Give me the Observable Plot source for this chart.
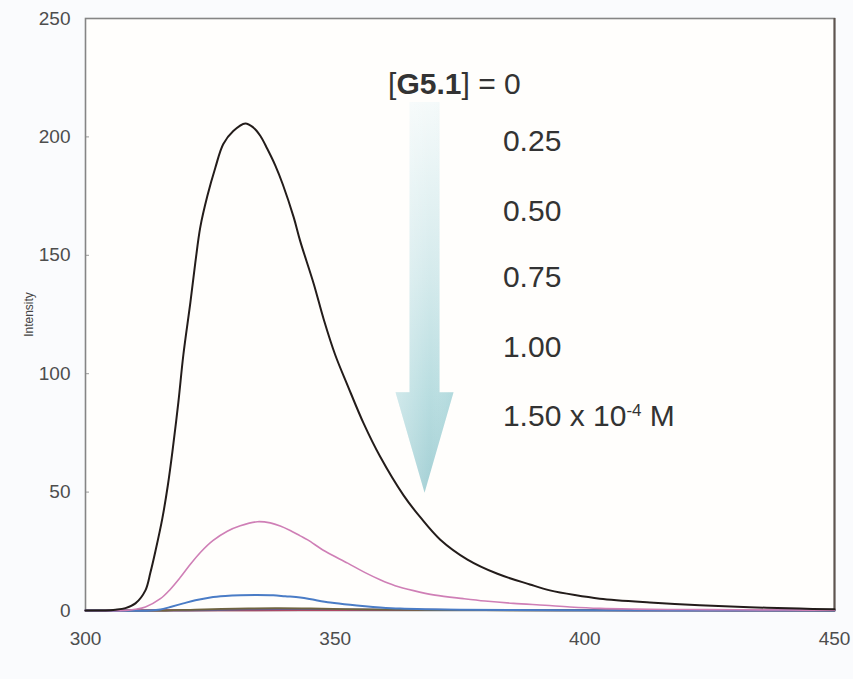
<!DOCTYPE html>
<html><head><meta charset="utf-8">
<script src="https://cdn.jsdelivr.net/npm/d3@7"></script>
<script src="https://cdn.jsdelivr.net/npm/@observablehq/plot@0.6"></script>
<style>
html,body{margin:0;padding:0;background:#fafbfd;}
#chart{width:853px;height:679px;}
</style></head><body><div id="chart"></div>
<script>
// ---- data ----
const concentrations = ["0", "0.25", "0.50", "0.75", "1.00", "1.50"];
const seriesColors = ["#231c1a", "#cf7fb6", "#4a7cc6", "#6f6440", "#6a5b86", "#c9405a"];
const seriesWidths = [2, 1.6, 2, 1.8, 1.8, 2];

const wl0 = [300,304,306,308,310,312,313,314,315.4,316.5,317.4,318.6,319.6,321,322,323,324.4,326,327.6,329.6,332,333.6,335,336.4,338,339.5,341.7,343,345.7,347.7,350,352.5,355.7,359,363.7,367,371,376.5,382.5,389,393,398,403,413,423,433,443,450];
const int0 = [0,0,0.3,1,3,8.5,16,25,39,53,67,88,108,130,147,162,175,187,197,202.5,205.7,204,200.5,195,188,180,166,156,138,123,108,95,79,65,48.6,39.5,30,21.5,15.5,11,8.5,6.5,5,3.4,2.2,1.4,0.8,0.5];

const wl1 = [300,308,310,312,315,317,319,321,323,325.5,328.4,331,334.4,337,339,341,343,344.5,348,352.5,356,359,362,365.7,370,375.7,380,385.7,392,397,403,410,420,430,440,450];
const int1 = [0,0,0.5,1.5,5,9,14,19.5,24.5,29.5,33.5,35.8,37.5,37,35.7,33.8,31.5,29.8,25,20,16,13,10.5,8.4,6.5,5,4,3,2.2,1.5,0.9,0.6,0.4,0.3,0.2,0.1];

const wl2 = [300,313,315,317,319.6,322,325,328,331,334,337.6,340,343,346,349,353,356,359,363,368,375,385,400,420,450];
const int2 = [0,0,0.4,1.5,3,4.3,5.5,6.1,6.4,6.5,6.4,6,5.5,4.4,3.4,2.4,1.8,1.3,0.8,0.5,0.3,0.2,0.1,0.05,0];

const wl3 = [300,316,322,330,338,345,352,360,370,385,400,450];
const int3 = [0,0,0.4,0.8,1.0,0.9,0.6,0.35,0.2,0.1,0.05,0];

const wl4 = [300,320,330,340,350,360,370,380,395,420,450];
const int4 = [0,0,0.3,0.45,0.45,0.4,0.35,0.2,0.1,0.05,0];

const wl5 = [300,330,350,370,390,410,430,450];
const int5 = [0,0.1,0.2,0.25,0.25,0.15,0.05,0];

const xTicks = [300, 350, 400, 450];
const yTicks = [0, 50, 100, 150, 200, 250];
const yLabel = "Intensity";

// legend annotation (data coordinates)
const legendLines = ["[G5.1] = 0", "0.25", "0.50", "0.75", "1.00", "1.50 x 10-4 M"];
const legendX = [360.7, 383.7, 383.7, 383.7, 383.7, 383.7];
const legendY = [222.6, 198.5, 168.9, 141.0, 111.5, 82.3];
// arrow annotation (data coordinates)
const arrowX = 368;
const arrowTop = 214.5;
const arrowNeck = 92;
const arrowTip = 49.5;

// ---- build ----
const wls = [wl0, wl1, wl2, wl3, wl4, wl5];
const ints = [int0, int1, int2, int3, int4, int5];
const series = concentrations.map((c, i) => wls[i].map((w, j) => ({conc: c, wl: w, intensity: ints[i][j]})));
const drawOrder = [5, 4, 3, 2, 1, 0];

const plot = Plot.plot({
  width: 853,
  height: 679,
  marginLeft: 85,
  marginRight: 19,
  marginTop: 18,
  marginBottom: 69,
  x: {domain: [300, 450]},
  y: {domain: [0, 250]},
  style: {fontFamily: "'Liberation Sans', Arial, sans-serif", background: "transparent", overflow: "visible"},
  marks: [
    Plot.frame({fill: "#fffefc", stroke: null}),
    Plot.axisX(xTicks, {tickSize: 0, tickPadding: 21, fontSize: 19, color: "#4d4d4d", label: null}),
    Plot.axisY(yTicks, {tickSize: 0, tickPadding: 15, fontSize: 19, color: "#4d4d4d", label: null}),
    Plot.axisY(yTicks, {tickSize: -4, text: null, stroke: "#9a9a9a", label: null}),
    Plot.text([yLabel], {frameAnchor: "left", textAnchor: "middle", rotate: -90, dx: -56, fontSize: 12, fill: "#444"}),
    Plot.frame({stroke: "#858585", strokeWidth: 1.6}),
    Plot.ruleX([xTicks[xTicks.length - 1]], {stroke: "#5f5550", strokeWidth: 2}),
    ...drawOrder.map(i => Plot.line(series[i], {
      x: "wl", y: "intensity", stroke: seriesColors[i], strokeWidth: seriesWidths[i], curve: "catmull-rom"
    }))
  ]
});
document.getElementById("chart").appendChild(plot);

// ---- annotations through the plot's scales ----
const sx = plot.scale("x"), sy = plot.scale("y");
const svg = d3.select(plot);
const defs = svg.append("defs");
const cx = sx.apply(arrowX);
const yTop = sy.apply(arrowTop), yNeck = sy.apply(arrowNeck), yTip = sy.apply(arrowTip);
const gv = defs.append("linearGradient").attr("id", "arrowGrad")
  .attr("gradientUnits", "userSpaceOnUse").attr("x1", 0).attr("x2", 0).attr("y1", yTop).attr("y2", yTip);
gv.append("stop").attr("offset", "0%").attr("stop-color", "#f5fafa");
gv.append("stop").attr("offset", "45%").attr("stop-color", "#d4eaec");
gv.append("stop").attr("offset", "75%").attr("stop-color", "#b8dde0");
gv.append("stop").attr("offset", "100%").attr("stop-color", "#a4d0d5");
const gh = defs.append("linearGradient").attr("id", "arrowShade")
  .attr("x1", 0).attr("x2", 1).attr("y1", 0).attr("y2", 0);
gh.append("stop").attr("offset", "0%").attr("stop-color", "#ffffff").attr("stop-opacity", 0.35);
gh.append("stop").attr("offset", "60%").attr("stop-color", "#ffffff").attr("stop-opacity", 0);
gh.append("stop").attr("offset", "100%").attr("stop-color", "#8cc4ca").attr("stop-opacity", 0.15);

const sw = 15, hw = 29;
const arrowPath = `M${cx - sw},${yTop} L${cx + sw},${yTop} L${cx + sw},${yNeck} L${cx + hw},${yNeck} L${cx},${yTip} L${cx - hw},${yNeck} L${cx - sw},${yNeck} Z`;
const ag = svg.insert("g", "g[aria-label='line']");
ag.append("path").attr("d", arrowPath).attr("fill", "url(#arrowGrad)");
ag.append("path").attr("d", arrowPath).attr("fill", "url(#arrowShade)");

const lg = svg.append("g")
  .attr("font-family", "'Liberation Sans', Arial, sans-serif")
  .attr("text-anchor", "start")
  .attr("font-size", 30).attr("fill", "#333");
legendLines.forEach((t, i) => {
  const el = lg.append("text").attr("x", sx.apply(legendX[i])).attr("y", sy.apply(legendY[i])).attr("dy", "0.36em");
  if (i === 0) {
    el.append("tspan").text("[");
    el.append("tspan").attr("font-weight", "bold").text("G5.1");
    el.append("tspan").text("] = 0");
  } else if (t.includes("10-4")) {
    const [a, b] = t.split("10-4");
    el.append("tspan").text(a + "10");
    el.append("tspan").attr("font-size", 17).attr("dy", -10).text("-4");
    el.append("tspan").attr("dy", 10).text(b.startsWith(" ") ? "\u00a0" + b.slice(1) : b);
  } else {
    el.text(t);
  }
});
</script>
</body></html>
